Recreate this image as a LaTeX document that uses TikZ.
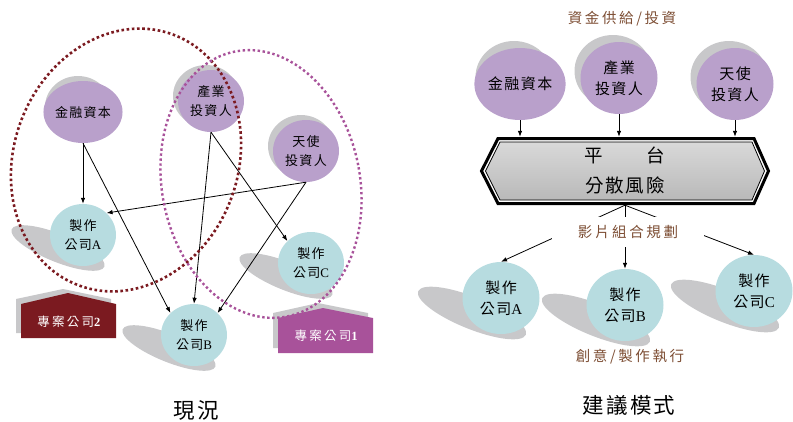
\documentclass[tikz,border=0pt]{standalone}
\usepackage{fontspec}
\setmainfont{Liberation Serif}
\newfontfamily\cjk[LetterSpace=10]{Noto Sans CJK TC}
\newfontfamily\cjkw[LetterSpace=18]{Noto Sans CJK TC}
\usetikzlibrary{shapes.geometric,arrows.meta,calc}
\definecolor{purp}{RGB}{185,160,203}
\definecolor{cyanc}{RGB}{183,220,224}
\definecolor{shgray}{RGB}{200,200,202}
\definecolor{dred}{RGB}{123,26,32}
\definecolor{mag}{RGB}{168,82,154}
\definecolor{brownt}{RGB}{125,78,52}
\newcommand\lat[1]{{\rmfamily #1}}
\tikzset{
  blobS/.style={ellipse, inner sep=0pt, minimum width=66pt, minimum height=62pt, align=center,
    font=\cjk\fontsize{13}{19}\selectfont},
  blobL/.style={ellipse, inner sep=0pt, minimum width=77pt, minimum height=72pt, align=center,
    font=\cjk\fontsize{15}{21}\selectfont},
  arr/.style={-{Latex[length=6pt,width=4.5pt]}, line width=0.8pt},
  lbl/.style={font=\cjkw\fontsize{14.5}{16}\selectfont, text=brownt},
  ttl/.style={font=\cjk\fontsize{21.5}{24}\selectfont},
  housetxt/.style={font=\cjkw\fontsize{12.5}{14}\selectfont, text=white},
}
\begin{document}
\begin{tikzpicture}[x=1pt,y=-1pt]
\useasboundingbox (0,0) rectangle (793,421);
% centres
\coordinate (cL1) at (83,112);
\coordinate (cL2) at (211,101);
\coordinate (cL3) at (306,151);
\coordinate (cLA) at (83,235);
\coordinate (cLB) at (194,335);
\coordinate (cLC) at (311,263);
\coordinate (cR1) at (520,84);
\coordinate (cR2) at (619,78);
\coordinate (cR3) at (735,84);
\coordinate (cRA) at (501,298);
\coordinate (cRB) at (625,305);
\coordinate (cRC) at (754,291);
% cast shadows
\foreach \c in {cLA,cLB,cLC}{
  \begin{scope}[shift={($(\c)+(-25,13)$)},rotate=-22]
    \fill[shgray] (0,0) ellipse [x radius=50pt, y radius=14pt];
  \end{scope}}
\foreach \c in {cRA,cRB,cRC}{
  \begin{scope}[shift={($(\c)+(-29,15)$)},rotate=-22]
    \fill[shgray] (0,0) ellipse [x radius=58pt, y radius=16pt];
  \end{scope}}
% gray circles behind purple
\foreach \c in {cL1,cL2,cL3}{
  \fill[shgray] ($(\c)+(-5,-5)$) ellipse [x radius=33pt, y radius=31pt];}
\foreach \c in {cR1,cR2,cR3}{
  \fill[shgray] ($(\c)+(-6,-7)$) ellipse [x radius=38.5pt, y radius=36pt];}
% left nodes
\node[blobS, fill=purp] (L1) at (cL1) {金融資本};
\node[blobS, fill=purp] (L2) at (cL2) {產業\\投資人};
\node[blobS, fill=purp] (L3) at (cL3) {天使\\投資人};
\node[blobS, fill=cyanc] (LA) at (cLA) {製作\\公司\lat{A}};
\node[blobS, fill=cyanc] (LB) at (cLB) {製作\\公司\lat{B}};
\node[blobS, fill=cyanc] (LC) at (cLC) {製作\\公司\lat{C}};
% houses
\fill[shgray] (16,299) -- (63,289) -- (111,299) -- (111,333) -- (16,333) -- cycle;
\fill[dred] (21,304) -- (68,293) -- (116,304) -- (116,338) -- (21,338) -- cycle;
\node[housetxt] (H2) at (69,322) {專案公司\lat{\bfseries 2}};
\fill[shgray] (273,313) -- (318,303) -- (368,313) -- (368,348) -- (273,348) -- cycle;
\fill[mag] (278,318) -- (323,308) -- (373,318) -- (373,353) -- (278,353) -- cycle;
\node[housetxt] (H1) at (326,336) {專案公司\lat{\bfseries 1}};
% left arrows
\draw[arr] (L1.south) -- (LA.north);
\draw[arr] (L1.south) -- (LB.137);
\draw[arr] (L2.south) -- (LB.north);
\draw[arr] (L2.south) -- (LC.137);
\draw[arr] (L3.south) -- (LA.43);
\draw[arr] (L3.south) -- (LB.43);
% dotted ellipses
\draw[dred, line width=2.6pt, dash pattern=on 2.6pt off 2.6pt, rotate around={-21:(126,160)}]
  (126,160) ellipse [x radius=112pt, y radius=134pt];
\draw[mag, line width=2.4pt, dash pattern=on 2.4pt off 2.6pt, rotate around={11:(261,184)}]
  (261,184) ellipse [x radius=99pt, y radius=135pt];
% right side
\node[blobL, fill=purp] (R1) at (cR1) {金融資本};
\node[blobL, fill=purp] (R2) at (cR2) {產業\\投資人};
\node[blobL, fill=purp] (R3) at (cR3) {天使\\投資人};
\node[blobL, fill=cyanc] (RA) at (cRA) {製作\\公司\lat{A}};
\node[blobL, fill=cyanc] (RB) at (cRB) {製作\\公司\lat{B}};
\node[blobL, fill=cyanc] (RC) at (cRC) {製作\\公司\lat{C}};
% platform
\begin{scope}[shift={(625,171)}]
  \filldraw[fill=white, draw=black, line width=3pt, line join=miter]
    (-127,-32.5) -- (129,-32.5) -- (143.5,0) -- (129,32.5) -- (-127,32.5) -- (-143.5,0) -- cycle;
  \draw[line width=0.8pt, top color=gray!30, middle color=white, bottom color=gray!55]
    (-125,-29) -- (127,-29) -- (139.5,0) -- (127,29) -- (-125,29) -- (-139.5,0) -- cycle;
\end{scope}
\node[minimum width=290pt, minimum height=68pt, align=center,
      font=\cjk\fontsize{18.5}{30}\selectfont] (plat) at (625,171) {平\hspace{44pt}台\\分散風險};
\draw[arr] (R1.south) -- (R1.south |- plat.north);
\draw[arr] (R2.south) -- (R2.south |- plat.north);
\draw[arr] (R3.south) -- (R3.south |- plat.north);
\draw[arr] (plat.south) -- (RA.north);
\draw[arr] (plat.south) -- (RB.north);
\draw[arr] (plat.south) -- (RC.north);
% labels
\node[lbl] (t1) at (622,19) {資金供給/投資};
\node[lbl, fill=white, inner xsep=26pt, inner ysep=8pt] (t2) at (628,232) {影片組合規劃};
\node[lbl] (t3) at (630,357) {創意/製作執行};
\node[ttl] (T1) at (196,410) {現況};
\node[ttl] (T2) at (629,405) {建議模式};
\end{tikzpicture}
\end{document}
